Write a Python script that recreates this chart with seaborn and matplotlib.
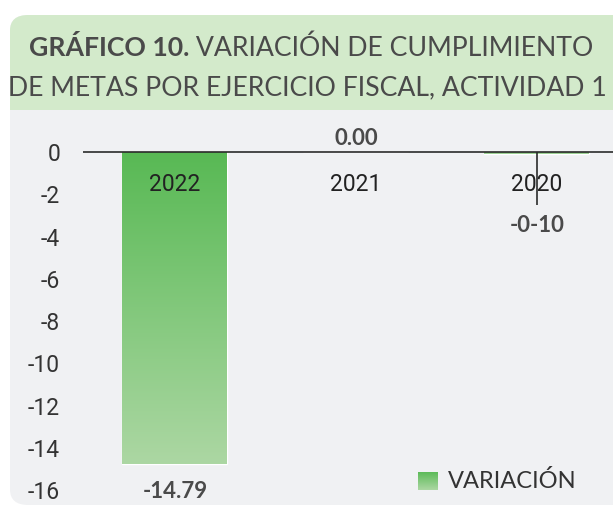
import numpy as np
import pandas as pd
import matplotlib
matplotlib.use("Agg")
import matplotlib.pyplot as plt
from matplotlib.patches import FancyBboxPatch, Rectangle
from matplotlib.colors import LinearSegmentedColormap
import seaborn as sns

# datos
anios = ["2022", "2021", "2020"]
variacion = [-14.79, 0.00, -0.10]
etiquetas = ["-14.79", "0.00", "-0-10"]
y_ticks = [0, -2, -4, -6, -8, -10, -12, -14, -16]

TITULO_BOLD = "GRÁFICO 10."
TITULO_L1 = " VARIACIÓN DE CUMPLIMIENTO"
TITULO_L2 = "DE METAS POR EJERCICIO FISCAL, ACTIVIDAD 1"

VERDE_ARRIBA = "#58b954"
VERDE_ABAJO = "#acd7a3"
FONDO_PANEL = "#f0f1f3"
FONDO_HEADER = "#d3eacb"
GRIS_TXT = "#4a4a4a"

sns.set_theme(style="white")
plt.rcParams["font.family"] = ["Roboto", "DejaVu Sans"]

W, H = 613, 519
fig = plt.figure(figsize=(W / 100, H / 100), dpi=100)
fig.patch.set_facecolor("white")

def fx(px):
    return px / W

def fy(py):
    return 1 - py / H

# panel de fondo y cabecera
fondo = [
    FancyBboxPatch((fx(10), fy(505)), fx(640) - fx(10), fy(15) - fy(505),
                   boxstyle="round,pad=0,rounding_size=0.03",
                   transform=fig.transFigure, facecolor=FONDO_PANEL, edgecolor="none"),
    FancyBboxPatch((fx(10), fy(110)), fx(640) - fx(10), fy(15) - fy(110),
                   boxstyle="round,pad=0,rounding_size=0.03",
                   transform=fig.transFigure, facecolor=FONDO_HEADER, edgecolor="none"),
    Rectangle((fx(10), fy(110)), fx(640) - fx(10), 0.03,
              transform=fig.transFigure, facecolor=FONDO_HEADER, edgecolor="none"),
]
for p in fondo:
    p.set_zorder(-10)
    fig.patches.append(p)

# titulo
tfs = 19.2
fam_tit = ["Lato", "DejaVu Sans"]
t1 = fig.text(0, fy(48), TITULO_BOLD, fontsize=tfs, fontweight="bold", color=GRIS_TXT,
              va="center", ha="left", family=fam_tit)
t2 = fig.text(0, fy(48), TITULO_L1, fontsize=tfs, color=GRIS_TXT,
              va="center", ha="left", family=fam_tit)
fig.canvas.draw()
r = fig.canvas.get_renderer()
w1 = t1.get_window_extent(r).width
w2 = t2.get_window_extent(r).width
x0 = (311 - (w1 + w2) / 2)
t1.set_x(x0 / W)
t2.set_x((x0 + w1) / W)
fig.text(fx(307), fy(88), TITULO_L2, fontsize=tfs, color=GRIS_TXT,
         va="center", ha="center", family=fam_tit)

# ejes
ax = fig.add_axes([fx(83), fy(505), fx(613) - fx(83), fy(110) - fy(505)])
ax.set_facecolor("none")
ax.set_zorder(1)
df = pd.DataFrame({"anio": anios, "variacion": variacion})
sns.barplot(data=df, x="anio", y="variacion", ax=ax, width=0.58, color=VERDE_ARRIBA,
            saturation=1, errorbar=None)

cmap = LinearSegmentedColormap.from_list("grad", [VERDE_ARRIBA, VERDE_ABAJO])
grad = np.linspace(0, 1, 256).reshape(-1, 1)
for p in ax.patches:
    if p.get_height() == 0:
        continue
    x, y0 = p.get_x(), p.get_y()
    w, h = p.get_width(), p.get_height()
    top, bot = max(y0, y0 + h), min(y0, y0 + h)
    im = ax.imshow(grad, cmap=cmap, aspect="auto", extent=(x, x + w, bot, top),
                   origin="upper", zorder=1)
    im.set_clip_path(p)
    p.set_facecolor("none")
ax.set_xlim(-0.508, 2.42)
ax.set_ylim(-16.71, 1.99)

ax.axhline(0, color="#2b2b2b", lw=1.2, zorder=3)
# linea vertical del 2020
ax.vlines(2, -2.5, 0, color="#2b2b2b", lw=1.2, zorder=3)

for i, (a, v, e) in enumerate(zip(anios, variacion, etiquetas)):
    ax.text(i, -1.56, a, ha="center", va="center", fontsize=16.5, color="#222222", zorder=4)
    if v == 0:
        yl = 0.66
    elif v > -1:
        yl = -3.46
    else:
        yl = v - 1.3
    ax.text(i, yl, e, ha="center", va="center", fontsize=16, fontweight="bold",
            color=GRIS_TXT, family=fam_tit, zorder=4)

ax.set_yticks(y_ticks)
ax.set_yticklabels([str(t) for t in y_ticks])
ax.tick_params(axis="y", length=0, pad=16.5, labelsize=16.5, labelcolor="#333333")
ax.set_xticks([])
ax.set_xlabel("")
ax.set_ylabel("")
for s in ax.spines.values():
    s.set_visible(False)
ax.xaxis.set_visible(False)

# leyenda
lax = fig.add_axes([fx(418), fy(490), fx(438) - fx(418), fy(472) - fy(490)])
lax.set_zorder(2)
lax.imshow(grad, cmap=cmap, aspect="auto")
lax.axis("off")
fig.text(fx(448), fy(481), "VARIACIÓN", fontsize=17, color="#333333", va="center",
         ha="left", family=fam_tit)

fig.savefig("out.png", dpi=100)
